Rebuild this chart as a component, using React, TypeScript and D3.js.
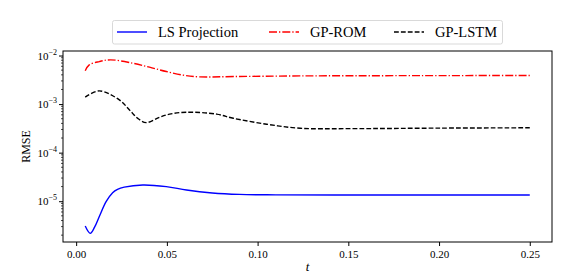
import React, { useEffect, useRef } from 'react';
import * as d3 from 'd3';

const width = 585;
const height = 280;
const margin = { top: 51, right: 33, bottom: 38, left: 63 };

// sample times and RMSE values
const lsT = [0.005, 0.0078, 0.0103, 0.0127, 0.0165, 0.0201, 0.0228, 0.0265, 0.0367, 0.0497, 0.0608, 0.075, 0.09, 0.11, 0.15, 0.2, 0.25];
const lsVals = [3.08e-6, 2.18e-6, 3.0e-6, 4.79e-6, 9.77e-6, 1.5e-5, 1.76e-5, 1.95e-5, 2.16e-5, 2.0e-5, 1.7e-5, 1.48e-5, 1.38e-5, 1.35e-5, 1.34e-5, 1.34e-5, 1.34e-5];

const romT = [0.005, 0.0072, 0.0127, 0.019, 0.031, 0.0404, 0.0497, 0.059, 0.068, 0.087, 0.1235, 0.18, 0.25];
const romVals = [4.84e-3, 6.4e-3, 7.5e-3, 8.15e-3, 6.97e-3, 5.75e-3, 4.68e-3, 3.94e-3, 3.63e-3, 3.69e-3, 3.8e-3, 3.85e-3, 3.87e-3];

const lstmT = [0.005, 0.0127, 0.0238, 0.0294, 0.0338, 0.0386, 0.046, 0.0515, 0.0608, 0.0774, 0.0866, 0.105, 0.1235, 0.15, 0.2, 0.25];
const lstmVals = [1.39e-3, 1.87e-3, 1.22e-3, 7.58e-4, 5.13e-4, 4.16e-4, 5.37e-4, 6.2e-4, 6.8e-4, 6.2e-4, 5.1e-4, 3.85e-4, 3.18e-4, 3.12e-4, 3.2e-4, 3.25e-4];

const xTicks = [0, 0.05, 0.1, 0.15, 0.2, 0.25];
const yDecades = [-5, -4, -3, -2];

const series = [
  { name: 'LS Projection', t: lsT, v: lsVals, color: '#0000ff', dash: null },
  { name: 'GP-ROM', t: romT, v: romVals, color: '#ff0000', dash: '8,2,1.3,2' },
  { name: 'GP-LSTM', t: lstmT, v: lstmVals, color: '#000000', dash: '4.8,2.1' },
];

const font = "'Times New Roman', 'Liberation Serif', Times, serif";

function App() {
  const ref = useRef<SVGSVGElement>(null);

  useEffect(() => {
    const svg = d3.select(ref.current);
    svg.selectAll('*').remove();

    const x = d3
      .scaleLinear()
      .domain([-0.00725, 0.26225])
      .range([margin.left, width - margin.right]);

    const y = d3
      .scaleLog()
      .domain([Math.pow(10, -5.84), Math.pow(10, -1.907)])
      .range([height - margin.bottom, margin.top]);

    const line = d3
      .line<[number, number]>()
      .x((d) => x(d[0]))
      .y((d) => y(d[1]))
      .curve(d3.curveCatmullRom.alpha(0.5));

    series.forEach((s) => {
      const pts = s.t.map((t, i) => [t, s.v[i]] as [number, number]);
      const p = svg
        .append('path')
        .attr('d', line(pts))
        .attr('fill', 'none')
        .attr('stroke', s.color)
        .attr('stroke-width', 1.4);
      if (s.dash) p.attr('stroke-dasharray', s.dash);
    });

    // x axis
    const xAxis = svg
      .append('g')
      .attr('transform', `translate(0, ${height - margin.bottom})`)
      .call(
        d3
          .axisBottom(x)
          .tickValues(xTicks)
          .tickFormat((d) => (+d).toFixed(2))
          .tickSizeInner(4)
          .tickSizeOuter(0)
          .tickPadding(4)
      );
    xAxis.select('.domain').remove();
    xAxis.attr('font-family', font).attr('font-size', 11);
    xAxis.selectAll('text').attr('fill', '#000');

    // y axis, log decades
    const minor: number[] = [];
    [-6, -5, -4, -3, -2].forEach((k) => {
      for (let m = 2; m <= 9; m++) {
        const v = m * Math.pow(10, k);
        if (v >= y.domain()[0] && v <= y.domain()[1]) minor.push(v);
      }
    });

    const yAxis = svg
      .append('g')
      .attr('transform', `translate(${margin.left}, 0)`)
      .call(
        d3
          .axisLeft(y)
          .tickValues(yDecades.map((k) => Math.pow(10, k)))
          .tickFormat(() => '')
          .tickSizeInner(4)
          .tickSizeOuter(0)
      );
    yAxis.select('.domain').remove();

    svg
      .append('g')
      .selectAll('line')
      .data(minor)
      .enter()
      .append('line')
      .attr('x1', margin.left - 2)
      .attr('x2', margin.left)
      .attr('y1', (d) => y(d))
      .attr('y2', (d) => y(d))
      .attr('stroke', '#000')
      .attr('stroke-width', 0.7);

    const yLabels = svg
      .append('g')
      .attr('font-family', font)
      .attr('font-size', 11)
      .selectAll('text')
      .data(yDecades)
      .enter()
      .append('text')
      .attr('x', margin.left - 6)
      .attr('y', (d) => y(Math.pow(10, d)) + 4)
      .attr('text-anchor', 'end');
    yLabels.append('tspan').text('10');
    yLabels
      .append('tspan')
      .attr('dy', -5)
      .attr('font-size', 8)
      .text((d) => `\u2212${-d}`);

    // frame
    svg
      .append('rect')
      .attr('x', margin.left)
      .attr('y', margin.top)
      .attr('width', width - margin.right - margin.left)
      .attr('height', height - margin.bottom - margin.top)
      .attr('fill', 'none')
      .attr('stroke', '#000')
      .attr('stroke-width', 1);

    // axis titles
    svg
      .append('text')
      .attr('x', (margin.left + width - margin.right) / 2)
      .attr('y', 271)
      .attr('text-anchor', 'middle')
      .attr('font-family', font)
      .attr('font-style', 'italic')
      .attr('font-size', 13)
      .text('t');

    svg
      .append('text')
      .attr('transform', `translate(30, ${(margin.top + height - margin.bottom) / 2}) rotate(-90)`)
      .attr('text-anchor', 'middle')
      .attr('font-family', font)
      .attr('font-size', 12)
      .text('RMSE');

    // legend
    const lg = svg.append('g');
    lg.append('rect')
      .attr('x', 112.5)
      .attr('y', 20.5)
      .attr('width', 390)
      .attr('height', 23.5)
      .attr('rx', 2)
      .attr('fill', '#fff')
      .attr('stroke', '#d9d9d9')
      .attr('stroke-width', 1);

    const legendX = [117, 269, 394];
    series.forEach((s, i) => {
      const lx = legendX[i];
      const l = lg
        .append('line')
        .attr('x1', lx)
        .attr('x2', lx + 30)
        .attr('y1', 32)
        .attr('y2', 32)
        .attr('stroke', s.color)
        .attr('stroke-width', 1.4);
      if (s.dash) l.attr('stroke-dasharray', s.dash);
      lg.append('text')
        .attr('x', lx + 41)
        .attr('y', 36.5)
        .attr('font-family', font)
        .attr('font-size', 14.5)
        .text(s.name);
    });
  }, []);

  return (
    <div style={{ position: 'fixed', left: 0, top: 0 }}>
      <svg ref={ref} width={width} height={height} style={{ display: 'block', background: '#fff' }} />
    </div>
  );
}

export default App;
